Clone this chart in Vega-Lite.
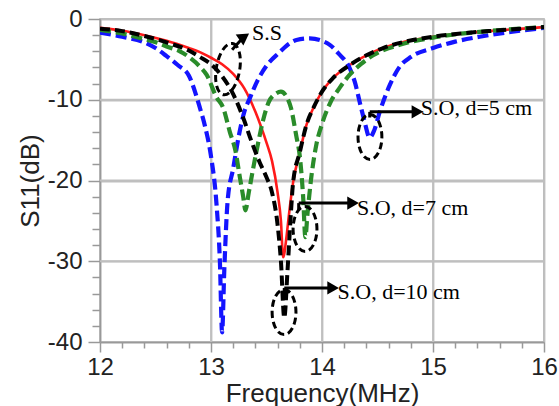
{
  "$schema": "https://vega.github.io/schema/vega-lite/v6.json",
  "width": 444,
  "height": 323,
  "autosize": "none",
  "padding": {"left": 100, "top": 19, "right": 15, "bottom": 64},
  "background": "white",
  "config": {
    "view": {"stroke": "#a8a8a8", "strokeWidth": 1.5},
    "axis": {"labelFont": "Liberation Sans", "titleFont": "Liberation Sans", "labelColor": "#222", "titleColor": "#222", "titleFontWeight": "normal", "domainColor": "#999", "domainWidth": 1.5, "tickColor": "#999", "tickWidth": 1.5, "gridColor": "#bfbfbf", "gridWidth": 1.8, "gridOpacity": 1}
  },
  "resolve": {"axis": {"x": "independent", "y": "independent"}},
  "datasets": {
    "vgrid": [{"v": 13, "lo": -40, "hi": 0}, {"v": 14, "lo": -40, "hi": 0}, {"v": 15, "lo": -40, "hi": 0}],
    "hgrid": [{"w": -30, "lo": 12, "hi": 16}, {"w": -20, "lo": 12, "hi": 16}, {"w": -10, "lo": 12, "hi": 16}],
    "red": [
      {"f": 12.0, "s": -1.1}, {"f": 12.2, "s": -1.45}, {"f": 12.4, "s": -2.0}, {"f": 12.6, "s": -2.7}, {"f": 12.8, "s": -3.6},
      {"f": 12.9, "s": -4.1}, {"f": 13.0, "s": -4.8}, {"f": 13.1, "s": -5.6}, {"f": 13.2, "s": -6.8}, {"f": 13.3, "s": -8.6},
      {"f": 13.4, "s": -11.5}, {"f": 13.45, "s": -13.3}, {"f": 13.5, "s": -15.3}, {"f": 13.55, "s": -17.6}, {"f": 13.6, "s": -21.5},
      {"f": 13.63, "s": -25.0}, {"f": 13.65, "s": -29.5}, {"f": 13.68, "s": -27.0}, {"f": 13.7, "s": -24.5}, {"f": 13.74, "s": -20.2},
      {"f": 13.8, "s": -16.5}, {"f": 13.86, "s": -13.1}, {"f": 13.93, "s": -10.8}, {"f": 14.0, "s": -9.0}, {"f": 14.1, "s": -7.3},
      {"f": 14.25, "s": -5.7}, {"f": 14.4, "s": -4.5}, {"f": 14.55, "s": -3.6}, {"f": 14.75, "s": -2.8}, {"f": 15.0, "s": -2.2},
      {"f": 15.25, "s": -1.8}, {"f": 15.5, "s": -1.5}, {"f": 15.75, "s": -1.25}, {"f": 16.0, "s": -1.0}
    ],
    "black": [
      {"f": 12.0, "s": -1.2}, {"f": 12.2, "s": -1.5}, {"f": 12.4, "s": -2.1}, {"f": 12.6, "s": -2.9}, {"f": 12.8, "s": -3.9},
      {"f": 12.9, "s": -4.7}, {"f": 13.0, "s": -5.6}, {"f": 13.1, "s": -7.1}, {"f": 13.2, "s": -9.3}, {"f": 13.3, "s": -12.6},
      {"f": 13.35, "s": -14.6}, {"f": 13.44, "s": -17.8}, {"f": 13.5, "s": -19.6}, {"f": 13.55, "s": -21.5}, {"f": 13.6, "s": -25.5},
      {"f": 13.63, "s": -30.0}, {"f": 13.66, "s": -37.0}, {"f": 13.69, "s": -31.0}, {"f": 13.72, "s": -24.0}, {"f": 13.74, "s": -20.2},
      {"f": 13.8, "s": -16.5}, {"f": 13.86, "s": -13.1}, {"f": 13.93, "s": -10.8}, {"f": 14.0, "s": -9.0}, {"f": 14.1, "s": -7.3},
      {"f": 14.25, "s": -5.7}, {"f": 14.4, "s": -4.5}, {"f": 14.55, "s": -3.6}, {"f": 14.75, "s": -2.8}, {"f": 15.0, "s": -2.2},
      {"f": 15.25, "s": -1.8}, {"f": 15.5, "s": -1.5}, {"f": 15.75, "s": -1.25}, {"f": 16.0, "s": -1.0}
    ],
    "blue": [
      {"f": 12.0, "s": -1.7}, {"f": 12.2, "s": -2.2}, {"f": 12.4, "s": -2.9}, {"f": 12.5, "s": -3.6}, {"f": 12.6, "s": -4.6},
      {"f": 12.7, "s": -5.7}, {"f": 12.8, "s": -7.0}, {"f": 12.9, "s": -11.0}, {"f": 12.95, "s": -13.5}, {"f": 13.0, "s": -17.0},
      {"f": 13.05, "s": -23.0}, {"f": 13.08, "s": -30.0}, {"f": 13.1, "s": -38.8}, {"f": 13.12, "s": -31.0}, {"f": 13.15, "s": -22.5},
      {"f": 13.2, "s": -18.5}, {"f": 13.25, "s": -14.5}, {"f": 13.3, "s": -11.5}, {"f": 13.35, "s": -9.8}, {"f": 13.42, "s": -7.6},
      {"f": 13.5, "s": -5.8}, {"f": 13.62, "s": -4.1}, {"f": 13.7, "s": -3.1}, {"f": 13.77, "s": -2.6}, {"f": 13.89, "s": -2.4},
      {"f": 14.0, "s": -2.7}, {"f": 14.07, "s": -3.2}, {"f": 14.15, "s": -4.3}, {"f": 14.25, "s": -6.1}, {"f": 14.3, "s": -8.0},
      {"f": 14.34, "s": -10.3}, {"f": 14.38, "s": -12.5}, {"f": 14.43, "s": -14.7}, {"f": 14.47, "s": -13.8}, {"f": 14.52, "s": -11.5},
      {"f": 14.61, "s": -8.2}, {"f": 14.7, "s": -5.9}, {"f": 14.8, "s": -4.7}, {"f": 15.0, "s": -3.6}, {"f": 15.2, "s": -2.8},
      {"f": 15.42, "s": -2.2}, {"f": 15.7, "s": -1.6}, {"f": 16.0, "s": -1.1}
    ],
    "green": [
      {"f": 12.0, "s": -1.35}, {"f": 12.2, "s": -1.8}, {"f": 12.4, "s": -2.5}, {"f": 12.51, "s": -2.9}, {"f": 12.6, "s": -3.4},
      {"f": 12.72, "s": -4.0}, {"f": 12.81, "s": -4.8}, {"f": 12.9, "s": -5.9}, {"f": 12.96, "s": -6.9}, {"f": 13.05, "s": -9.7},
      {"f": 13.11, "s": -11.0}, {"f": 13.17, "s": -14.0}, {"f": 13.22, "s": -16.3}, {"f": 13.26, "s": -19.6}, {"f": 13.29, "s": -22.0},
      {"f": 13.31, "s": -23.7}, {"f": 13.34, "s": -21.5}, {"f": 13.38, "s": -18.5}, {"f": 13.43, "s": -15.0}, {"f": 13.47, "s": -12.5},
      {"f": 13.52, "s": -10.3}, {"f": 13.59, "s": -9.2}, {"f": 13.63, "s": -9.0}, {"f": 13.68, "s": -9.6}, {"f": 13.72, "s": -11.0},
      {"f": 13.77, "s": -14.6}, {"f": 13.8, "s": -17.0}, {"f": 13.83, "s": -22.0}, {"f": 13.85, "s": -27.0}, {"f": 13.87, "s": -24.0},
      {"f": 13.9, "s": -20.0}, {"f": 13.95, "s": -15.5}, {"f": 14.0, "s": -13.0}, {"f": 14.07, "s": -10.5}, {"f": 14.16, "s": -8.5},
      {"f": 14.25, "s": -6.9}, {"f": 14.35, "s": -5.6}, {"f": 14.46, "s": -4.5}, {"f": 14.7, "s": -3.2}, {"f": 15.0, "s": -2.3},
      {"f": 15.5, "s": -1.5}, {"f": 16.0, "s": -1.0}
    ],
    "labels": [
      {"f": 13.37, "s": -1.75, "t": "S.S"},
      {"f": 14.89, "s": -11.0, "t": "S.O, d=5 cm"},
      {"f": 14.315, "s": -23.4, "t": "S.O, d=7 cm"},
      {"f": 14.14, "s": -33.8, "t": "S.O, d=10 cm"}
    ],
    "arrows": [
      {"f": 14.43, "s": -11.5, "f2": 14.84, "s2": -11.5},
      {"f": 13.79, "s": -22.8, "f2": 14.26, "s2": -22.8},
      {"f": 13.66, "s": -33.3, "f2": 14.08, "s2": -33.3},
      {"f": 14.43, "s": -11.5, "f2": 14.43, "s2": -12.2},
      {"f": 13.79, "s": -22.8, "f2": 13.79, "s2": -23.6},
      {"f": 13.66, "s": -33.3, "f2": 13.66, "s2": -34.0},
      {"f": 13.19, "s": -3.8, "f2": 13.29, "s2": -2.3}
    ],
    "heads": [
      {"f": 14.86, "s": -11.5, "a": 90},
      {"f": 14.28, "s": -22.8, "a": 90},
      {"f": 14.1, "s": -33.3, "a": 90},
      {"f": 13.3, "s": -2.2, "a": 55}
    ],
    "ellipses": [
      {"f": 14.432, "s": -14.6},
      {"f": 13.847, "s": -26.0},
      {"f": 13.658, "s": -36.3}
    ],
    "ssellipse": [
      {"f": 13.153, "s": -6.2}
    ]
  },
  "layer": [
    {
      "data": {"name": "vgrid"},
      "mark": {"type": "rule", "stroke": "#bfbfbf", "strokeWidth": 1.8, "opacity": 1},
      "encoding": {
        "x": {"field": "v", "type": "quantitative", "axis": null},
        "y": {"field": "lo", "type": "quantitative", "axis": null},
        "y2": {"field": "hi"}
      }
    },
    {
      "data": {"name": "hgrid"},
      "mark": {"type": "rule", "stroke": "#bfbfbf", "strokeWidth": 1.8, "opacity": 1},
      "encoding": {
        "y": {"field": "w", "type": "quantitative", "axis": null},
        "x": {"field": "lo", "type": "quantitative", "axis": null},
        "x2": {"field": "hi"}
      }
    },
    {
      "data": {"name": "red"},
      "mark": {"type": "line", "color": "#ff1a1a", "strokeWidth": 2.6, "interpolate": "monotone", "clip": true},
      "encoding": {
        "x": {"field": "f", "type": "quantitative", "scale": {"domain": [12, 16], "nice": false, "zero": false},
          "axis": {"orient": "bottom", "values": [12, 13, 14, 15, 16], "labelExpr": "toString(datum.value)", "labelOverlap": false, "labelFlush": false, "labelBound": false,
            "labelFontSize": 24, "labelPadding": 3, "title": "Frequency(MHz)", "titleFontSize": 26, "titlePadding": 1,
            "tickSize": 10, "grid": true}},
        "y": {"field": "s", "type": "quantitative", "scale": {"domain": [-40, 0], "nice": false, "zero": false},
          "axis": {"orient": "left", "values": [-40, -30, -20, -10, 0], "labelExpr": "toString(datum.value)", "labelOverlap": false, "labelFlush": false, "labelBound": false,
            "labelFontSize": 24, "labelPadding": 6, "title": "S11(dB)", "titleFontSize": 26, "titlePadding": 4,
            "tickSize": 12, "grid": true}}
      }
    },
    {
      "data": {"name": "blue"},
      "mark": {"type": "line", "color": "#1414ff", "strokeWidth": 4.2, "strokeDash": [11, 5], "interpolate": "monotone", "clip": true},
      "encoding": {"x": {"field": "f", "type": "quantitative", "axis": null}, "y": {"field": "s", "type": "quantitative", "axis": null}}
    },
    {
      "data": {"name": "green"},
      "mark": {"type": "line", "color": "#2a8c2a", "strokeWidth": 4.2, "strokeDash": [11, 5], "interpolate": "monotone", "clip": true},
      "encoding": {"x": {"field": "f", "type": "quantitative", "axis": null}, "y": {"field": "s", "type": "quantitative", "axis": null}}
    },
    {
      "data": {"name": "black"},
      "mark": {"type": "line", "color": "#000000", "strokeWidth": 4, "strokeDash": [10, 5], "interpolate": "monotone", "clip": true},
      "encoding": {
        "x": {"field": "f", "type": "quantitative",
          "axis": {"orient": "bottom", "values": [12.2, 12.4, 12.6, 12.8, 13.2, 13.4, 13.6, 13.8, 14.2, 14.4, 14.6, 14.8, 15.2, 15.4, 15.6, 15.8],
            "labels": false, "grid": false, "domain": false, "tickSize": 6, "title": null}},
        "y": {"field": "s", "type": "quantitative",
          "axis": {"orient": "left", "values": [-38, -36, -34, -32, -28, -26, -24, -22, -18, -16, -14, -12, -8, -6, -4, -2],
            "labels": false, "grid": false, "domain": false, "tickSize": 8, "title": null}}
      }
    },
    {
      "data": {"name": "ellipses"},
      "mark": {"type": "point", "shape": "M0,-1A0.53,1,0,1,1,0,1A0.53,1,0,1,1,0,-1Z", "size": 2025, "filled": false, "stroke": "#000", "strokeWidth": 3, "strokeDash": [7, 4], "opacity": 1},
      "encoding": {"x": {"field": "f", "type": "quantitative", "axis": null}, "y": {"field": "s", "type": "quantitative", "axis": null}}
    },
    {
      "data": {"name": "ssellipse"},
      "mark": {"type": "point", "shape": "M0,-1A0.45,1,0,1,1,0,1A0.45,1,0,1,1,0,-1Z", "size": 2704, "angle": 10, "filled": false, "stroke": "#000", "strokeWidth": 3, "strokeDash": [7, 4], "opacity": 1},
      "encoding": {"x": {"field": "f", "type": "quantitative", "axis": null}, "y": {"field": "s", "type": "quantitative", "axis": null}}
    },
    {
      "data": {"name": "arrows"},
      "mark": {"type": "rule", "color": "#000", "strokeWidth": 3},
      "encoding": {"x": {"field": "f", "type": "quantitative", "axis": null}, "y": {"field": "s", "type": "quantitative", "axis": null}, "x2": {"field": "f2"}, "y2": {"field": "s2"}}
    },
    {
      "data": {"name": "heads"},
      "mark": {"type": "point", "shape": "triangle-up", "size": 180, "filled": true, "color": "#000", "opacity": 1},
      "encoding": {"x": {"field": "f", "type": "quantitative", "axis": null}, "y": {"field": "s", "type": "quantitative", "axis": null}, "angle": {"field": "a", "type": "quantitative", "scale": null}}
    },
    {
      "data": {"name": "labels"},
      "mark": {"type": "text", "font": "Liberation Serif", "fontSize": 22, "align": "left", "baseline": "middle", "color": "#000"},
      "encoding": {"x": {"field": "f", "type": "quantitative", "axis": null}, "y": {"field": "s", "type": "quantitative", "axis": null}, "text": {"field": "t"}}
    }
  ]
}
